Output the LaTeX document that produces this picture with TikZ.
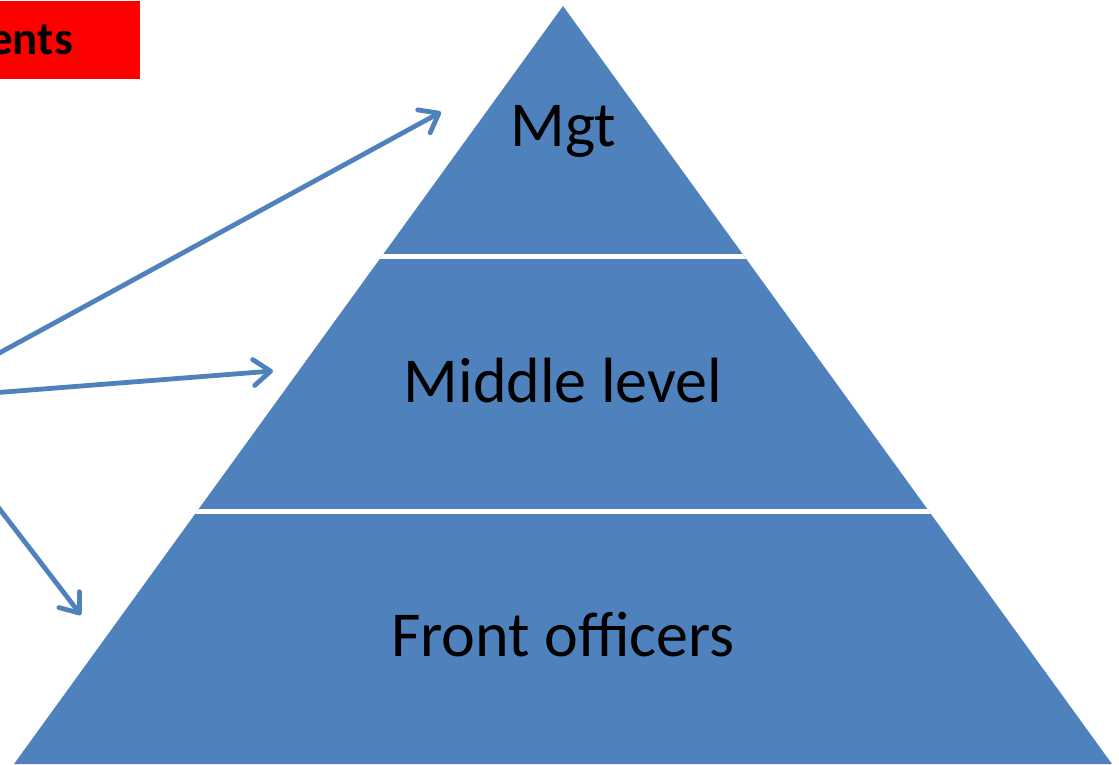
\documentclass[tikz,border=0pt]{standalone}
\usepackage{fontspec}
\setmainfont{Carlito}
\usetikzlibrary{arrows.meta}
\definecolor{pyrblue}{HTML}{4F81BD}
\definecolor{tagred}{HTML}{FF0000}
\tikzset{
  tier/.style={font=\fontsize{64}{76}\selectfont, text=black, inner sep=0pt, anchor=base},
  pointer/.style={draw=pyrblue, line width=4.8pt, line cap=round,
    -{Straight Barb[length=17pt, width=26pt, line cap=round, line join=round]}},
  gap/.style={draw=white, line width=5pt}
}
\begin{document}
\begin{tikzpicture}[x=1pt, y=-1pt]
  \useasboundingbox (0,0) rectangle (1119,764);
  \clip (0,0) rectangle (1119,764);

  % pyramid body
  \coordinate (apex) at (563,6);
  \coordinate (bl) at (14,764);
  \coordinate (br) at (1112,764);
  \fill[pyrblue] (apex) -- (br) -- (bl) -- cycle;

  % white bands separating the tiers
  \begin{scope}
    \clip (apex) -- (br) -- (bl) -- cycle;
    \draw[gap] (0,256) -- (1119,256);
    \draw[gap] (0,511.5) -- (1119,511.5);
  \end{scope}

  % tier labels
  \node[tier] (mgt) at (563,146) {Mgt};
  \node[tier] (mid) at (563,402) {Middle level};
  \node[tier] (front) at (563,656) {Front officers};

  % red tag in the corner
  \fill[tagred] (-200,1) rectangle (140,79);
  \node[font=\fontsize{47}{56}\selectfont\bfseries, anchor=base east, inner sep=0pt] (tag) at (73,54) {ents};

  % arrows fanning out from a common source
  \coordinate (src) at (-85,399);
  \coordinate (tipA) at (441,112);
  \coordinate (tipB) at (273,371);
  \coordinate (tipC) at (81,615);
  \draw[pointer] (src) -- (tipA);
  \draw[pointer] (src) -- (tipB);
  \draw[pointer] (src) -- (tipC);
\end{tikzpicture}
\end{document}
